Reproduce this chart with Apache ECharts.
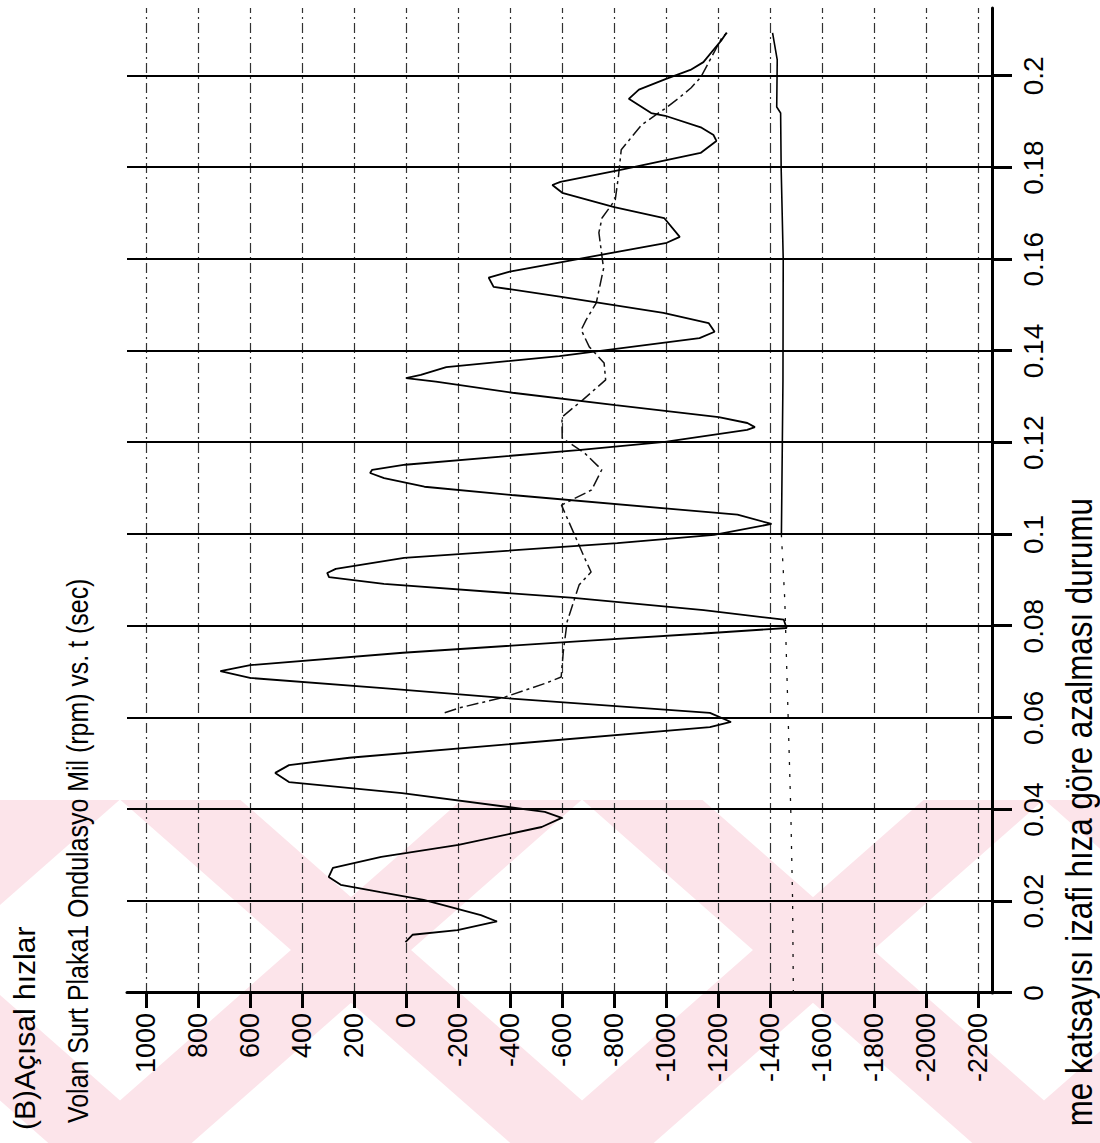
<!DOCTYPE html>
<html>
<head>
<meta charset="utf-8">
<script src="https://cdn.jsdelivr.net/npm/echarts@6/dist/echarts.min.js"></script>
<style>
  html, body { margin: 0; padding: 0; background: #fff; overflow: hidden; width: 1100px; height: 1143px; }
  /* The plot is laid out in landscape and turned a quarter turn counter-clockwise onto the page. */
  #chart { position: absolute; left: 0; top: 0; width: 1143px; height: 1100px;
           transform-origin: 0 0; transform: translate(0, 1143px) rotate(-90deg); }
</style>
</head>
<body>
<div id="chart"></div>
<script>
// Flywheel / clutch plate / shaft angular speeds (rpm) against time (s)

const timeTicks = [0, 0.02, 0.04, 0.06, 0.08, 0.1, 0.12, 0.14, 0.16, 0.18, 0.2];
const rpmTicks = [-2200, -2000, -1800, -1600, -1400, -1200, -1000, -800, -600, -400, -200, 0, 200, 400, 600, 800, 1000];

// Oscillating shaft speed (solid)
const mainT = [0.0111, 0.0127, 0.0137, 0.0156, 0.0170, 0.0203, 0.0220, 0.0236, 0.0253, 0.0273, 0.0297, 0.0323, 0.0362, 0.0382,
  0.0395, 0.0436, 0.0460, 0.0480, 0.0497, 0.0513, 0.0580, 0.0591, 0.0611, 0.0643, 0.0665, 0.0687, 0.0702, 0.0715, 0.0742,
  0.0768, 0.0784, 0.0796, 0.0814, 0.0835, 0.0862, 0.0892, 0.0907, 0.0916, 0.0925, 0.0949, 0.0981, 0.0999, 0.1023, 0.1043,
  0.1086, 0.1104, 0.1123, 0.1134, 0.1141, 0.1152, 0.1184, 0.1202, 0.1228, 0.1234, 0.1243, 0.1256, 0.1282, 0.1309, 0.1333,
  0.1341, 0.1348, 0.1365, 0.1389, 0.1428, 0.1442, 0.1461, 0.1483, 0.1518, 0.1540, 0.1560, 0.1573, 0.1594, 0.1636, 0.1649,
  0.1690, 0.1714, 0.1745, 0.1762, 0.1769, 0.1795, 0.1832, 0.1858, 0.1871, 0.1887, 0.1913, 0.1919, 0.1950, 0.1970, 0.1993,
  0.2013, 0.2030, 0.2057, 0.2078, 0.2094];
const mainRpm = [2, -25, -198, -350, -288, -68, 98, 251, 297, 281, 95, -202, -522, -599,
  -534, 15, 450, 503, 450, 218, -1169, -1250, -1169, -384, 89, 600, 714, 599, 12,
  -690, -1144, -1464, -1453, -1145, -634, 85, 296, 303, 270, 7, -813, -1185, -1406, -1275,
  -407, -71, 84, 138, 130, 3, -662, -996, -1312, -1342, -1313, -1203, -806, -410, -115,
  0, -57, -155, -590, -1129, -1187, -1164, -990, -598, -337, -318, -399, -599, -1003, -1053,
  -993, -801, -601, -563, -594, -825, -1133, -1194, -1183, -1137, -997, -943, -857, -896, -998,
  -1094, -1144, -1183, -1214, -1233];

// Plate speed (dash-dot)
const plateT = [0.0611, 0.0622, 0.0646, 0.0676, 0.0689, 0.0744, 0.0810, 0.0890, 0.0918, 0.0950, 0.1010, 0.1064, 0.1097,
  0.1141, 0.1177, 0.1210, 0.1256, 0.1293, 0.1337, 0.1374, 0.1409, 0.1446, 0.1468, 0.1505, 0.1580, 0.1658, 0.1690, 0.1730,
  0.1780, 0.1839, 0.1893, 0.1915, 0.1930, 0.1952, 0.1974, 0.1998, 0.2030, 0.2063, 0.2083, 0.2094];
const plateRpm = [-149, -207, -384, -539, -597, -605, -620, -666, -712, -686, -640, -598, -714,
  -753, -688, -601, -600, -679, -768, -762, -705, -674, -693, -732, -760, -742, -754, -805,
  -817, -828, -906, -961, -1000, -1050, -1097, -1135, -1165, -1196, -1215, -1235];

// Flywheel speed, nearly constant (faint early part, solid later part)
const flyEarlyT = [0.0, 0.0203, 0.0400, 0.0600, 0.0857, 0.0999];
const flyEarlyRpm = [-1490, -1487, -1480, -1470, -1457, -1444];
const flyLateT = [0.0999, 0.1337, 0.1600, 0.1800, 0.1919, 0.1932, 0.2035, 0.2094];
const flyLateRpm = [-1444, -1450, -1451, -1443, -1441, -1426, -1428, -1410];

const pairs = (ts, vs) => ts.map((t, i) => [t, vs[i]]);

const FONT = '"Liberation Sans", Arial, Helvetica, sans-serif';
const PAGE_H = 1143;   // page height; landscape x runs up the page
const pagePoint = (x, y) => [PAGE_H - y, x];

// Faint chevron watermark across the lower part of the page
const wmTop = 800, wmBottom = 1143, wmMidY = 950, wmSlope = 0.88, wmHalf = 60;
const wmCentres = [-111, 351, 813, 1275];
const watermark = [];
wmCentres.forEach(xc => {
  [1, -1].forEach(dir => {
    const xt = xc + dir * (wmTop - wmMidY) / wmSlope;
    const xb = xc + dir * (wmBottom - wmMidY) / wmSlope;
    watermark.push({
      type: 'polygon', z: -100, silent: true,
      shape: { points: [pagePoint(xt - wmHalf, wmTop), pagePoint(xt + wmHalf, wmTop),
                        pagePoint(xb + wmHalf, wmBottom), pagePoint(xb - wmHalf, wmBottom)] },
      style: { fill: '#fce4ea' }
    });
  });
});

const chart = echarts.init(document.getElementById('chart'), null, { renderer: 'svg', width: 1143, height: 1100 });

chart.setOption({
  animation: false,
  backgroundColor: 'transparent',
  grid: { left: 150, right: 8, top: 127, bottom: 108, containLabel: false, outerBoundsMode: 'none' },
  xAxis: {
    type: 'value', min: 0, max: 0.2148,
    axisLine: { show: true, onZero: false, lineStyle: { color: '#000', width: 3 } },
    axisTick: { show: true, length: 20, customValues: timeTicks, lineStyle: { color: '#000', width: 3 } },
    axisLabel: { customValues: timeTicks, margin: 27, fontSize: 28, color: '#000', fontFamily: FONT,
                 formatter: v => String(v) },
    splitLine: { show: true, lineStyle: { color: '#000', width: 2, type: 'solid' } }
  },
  yAxis: {
    type: 'value', min: -2254, max: 1073,
    axisLine: { show: true, onZero: false, lineStyle: { color: '#000', width: 3 } },
    axisTick: { show: true, length: 15, customValues: rpmTicks, lineStyle: { color: '#000', width: 3 } },
    axisLabel: { customValues: rpmTicks, margin: 20, fontSize: 27, color: '#000', fontFamily: FONT,
                 formatter: v => String(v) },
    splitLine: { show: true, lineStyle: { color: '#333', width: 1.2, type: [10, 4, 2, 4] } }
  },
  graphic: {
    elements: watermark.concat([
      { type: 'text', x: 13, y: 24, silent: true,
        style: { text: '(B)Açısal hızlar', font: '30px ' + FONT, fill: '#000', verticalAlign: 'middle', align: 'left' } },
      { type: 'text', x: 20, y: 78, scaleX: 0.86, silent: true,
        style: { text: 'Volan Surt Plaka1 Ondulasyo Mil (rpm) vs. t (sec)', font: '29px ' + FONT, fill: '#000',
                 verticalAlign: 'middle', align: 'left' } },
      { type: 'text', x: 645, y: 1079, scaleX: 0.87, silent: true,
        style: { text: 'me katsayısı izafi hıza göre azalması durumu', font: '36px ' + FONT, fill: '#000',
                 verticalAlign: 'middle', align: 'right' } }
    ])
  },
  series: [
    { name: 'Mil', type: 'line', data: pairs(mainT, mainRpm), symbol: 'none', silent: true, z: 4,
      lineStyle: { color: '#000', width: 1.8 } },
    { name: 'Plaka1', type: 'line', data: pairs(plateT, plateRpm), symbol: 'none', silent: true, z: 3,
      lineStyle: { color: '#111', width: 1.5, type: [12, 4, 3, 4] } },
    { name: 'Volan', type: 'line', data: pairs(flyEarlyT, flyEarlyRpm), symbol: 'none', silent: true, z: 3,
      lineStyle: { color: '#111', width: 1.3, type: [3, 9] } },
    { name: 'Volan ', type: 'line', data: pairs(flyLateT, flyLateRpm), symbol: 'none', silent: true, z: 3,
      lineStyle: { color: '#000', width: 1.6 } }
  ]
});
</script>
</body>
</html>
